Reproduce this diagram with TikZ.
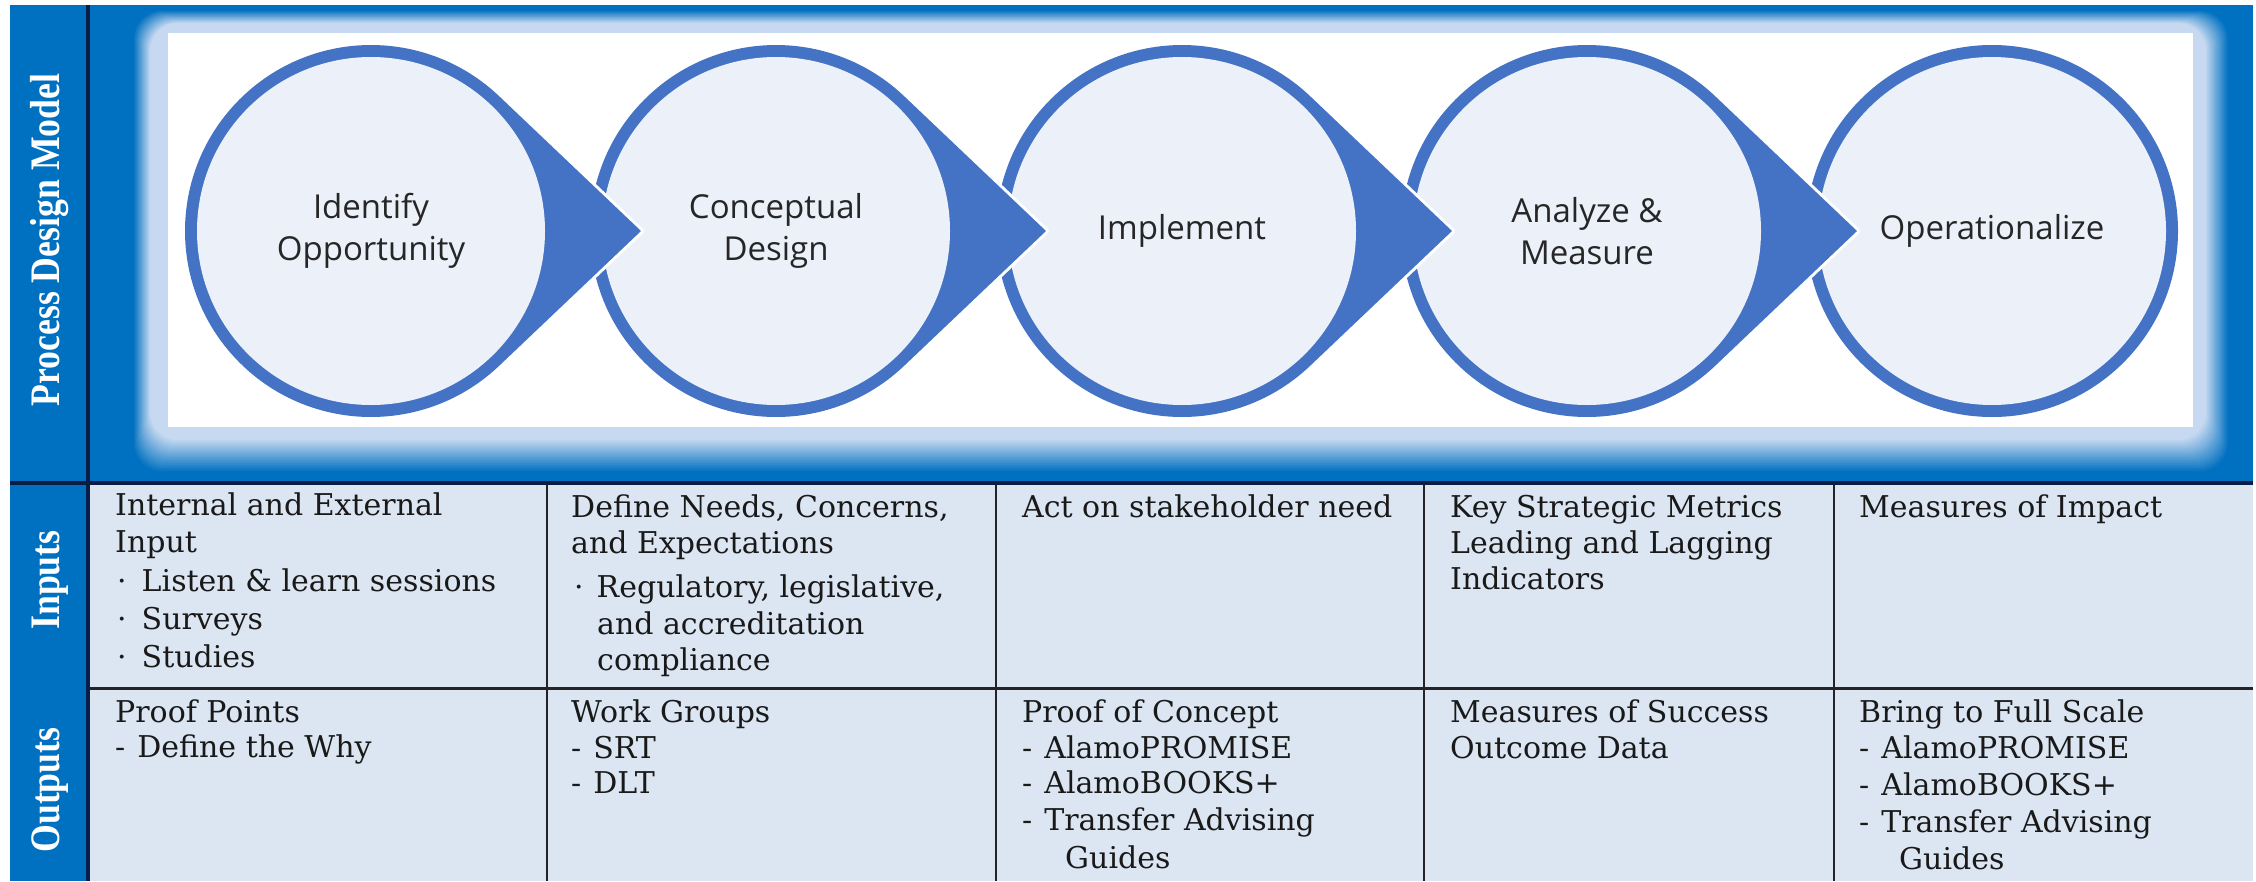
\documentclass[tikz,border=0pt]{standalone}
\usepackage{fontspec}
\setmainfont{DejaVu Serif}
\newfontfamily\labelfont[FakeStretch=0.85]{Liberation Serif}
\newfontfamily\circfont{Open Sans}
\definecolor{frameblue}{RGB}{0,112,192}
\definecolor{glowlight}{RGB}{198,217,241}
\definecolor{ringblue}{RGB}{68,114,196}
\definecolor{innerfill}{RGB}{235,240,249}
\definecolor{cellfill}{RGB}{220,230,242}
\definecolor{navyline}{RGB}{8,30,70}
\definecolor{gridline}{RGB}{35,35,40}
\definecolor{textcol}{RGB}{25,25,25}
\definecolor{circtext}{RGB}{38,38,38}
\newcommand{\dsh}{-\hspace{12pt}}
\newcommand{\arrowcircle}[1]{%
  \draw[white, line width=6pt, line join=round] (#1,231) ++(46.45:186) arc[start angle=46.45, end angle=313.55, radius=186] -- (#1+270,231) -- cycle;
  \fill[ringblue] (#1,231) ++(46.45:186) arc[start angle=46.45, end angle=313.55, radius=186] -- (#1+270,231) -- cycle;
  \fill[innerfill] (#1,231) circle[radius=174];
}
\begin{document}
\begin{tikzpicture}[x=1pt,y=-1pt,
  tcell/.style={anchor=base west, inner sep=0pt, font=\fontsize{30}{36}\selectfont, text=textcol},
  ctext/.style={align=center, inner sep=0pt, font=\circfont\fontsize{33}{42}\selectfont, text=circtext},
  lab/.style={rotate=90, inner sep=0pt, text=white, font=\labelfont\bfseries\fontsize{42}{46}\selectfont}]
\useasboundingbox (0,0) rectangle (2256,881);
\fill[white] (0,0) rectangle (2256,881);
\fill[frameblue] (10,5) rectangle (2253,881);
% glow around the white panel
\foreach \k in {20,19,...,0}{
  \pgfmathtruncatemacro{\pct}{5*\k}
  \fill[frameblue!\pct!glowlight, rounded corners=28pt] ({150-0.85*\k},{23-0.65*\k}) rectangle ({2206+1.15*\k},{440+1.65*\k});
}
\fill[white] (168,33) rectangle (2193,427);
% circles with arrows
\fill[ringblue] (1992,231) circle[radius=186];
\fill[innerfill] (1992,231) circle[radius=174];
\arrowcircle{1587}
\arrowcircle{1182}
\arrowcircle{776}
\arrowcircle{371}
\node[ctext] (c1) at (371,231) {Identify\\Opportunity};
\node[ctext] (c2) at (776,231) {Conceptual\\Design};
\node[ctext] (c3) at (1182,231) {Implement};
\node[ctext] (c4) at (1587,231) {Analyze \&\\Measure};
\node[ctext] (c5) at (1992,231) {Operationalize};
% table
\fill[cellfill] (88,483) rectangle (2253,881);
\foreach \xx in {547,996,1424,1834}{
  \draw[gridline, line width=2.5pt] (\xx,483) -- (\xx,881);
}
\draw[gridline, line width=3pt] (88,688) -- (2253,688);
\draw[navyline, line width=4pt] (10,483) -- (2253,483);
\draw[navyline, line width=4pt] (88,5) -- (88,881);
% row labels
\node[lab] (lpdm) at (50,240) {Process Design Model};
\node[lab] (lin) at (50,580) {Inputs};
\node[lab] (lout) at (50,790) {Outputs};
% inputs row
\node[tcell] (a1) at (115,515) {Internal and External};
\node[tcell] (a2) at (115,552) {Input};
\node[tcell] (a3) at (117,591) {·\hspace{15pt}Listen \& learn sessions};
\node[tcell] (a4) at (117,629) {·\hspace{15pt}Surveys};
\node[tcell] (a5) at (117,667) {·\hspace{15pt}Studies};
\node[tcell] (b1) at (571,517) {Define Needs, Concerns,};
\node[tcell] (b2) at (571,553) {and Expectations};
\node[tcell] (b3) at (574,597) {·\hspace{13pt}Regulatory, legislative,};
\node[tcell] (b4) at (597,634) {and accreditation};
\node[tcell] (b5) at (597,670) {compliance};
\node[tcell] (d1) at (1022,517) {Act on stakeholder need};
\node[tcell] (e1) at (1450,517) {Key Strategic Metrics};
\node[tcell] (e2) at (1450,553) {Leading and Lagging};
\node[tcell] (e3) at (1450,589) {Indicators};
\node[tcell] (f1) at (1859,517) {Measures of Impact};
% outputs row
\node[tcell] (g1) at (115,722) {Proof Points};
\node[tcell] (g2) at (115,757) {\dsh Define the Why};
\node[tcell] (h1) at (571,722) {Work Groups};
\node[tcell] (h2) at (571,758) {\dsh SRT};
\node[tcell] (h3) at (571,793) {\dsh DLT};
\node[tcell] (i1) at (1022,722) {Proof of Concept};
\node[tcell] (i2) at (1022,758) {\dsh AlamoPROMISE};
\node[tcell] (i3) at (1022,793) {\dsh AlamoBOOKS+};
\node[tcell] (i4) at (1022,830) {\dsh Transfer Advising};
\node[tcell] (i5) at (1065,868) {Guides};
\node[tcell] (j1) at (1450,722) {Measures of Success};
\node[tcell] (j2) at (1450,758) {Outcome Data};
\node[tcell] (k1) at (1859,722) {Bring to Full Scale};
\node[tcell] (k2) at (1859,758) {\dsh AlamoPROMISE};
\node[tcell] (k3) at (1859,795) {\dsh AlamoBOOKS+};
\node[tcell] (k4) at (1859,832) {\dsh Transfer Advising};
\node[tcell] (k5) at (1899,869) {Guides};
\end{tikzpicture}
\end{document}
